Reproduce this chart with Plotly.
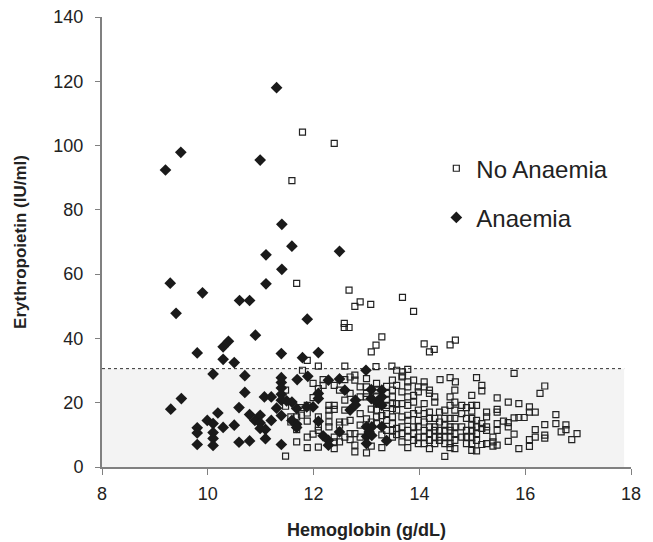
import plotly.graph_objects as go

# ---------------- data ----------------
# No Anaemia (open squares): hemoglobin (g/dL) and erythropoietin (IU/ml)
no_anaemia_hb = [
    11.79, 12.39, 11.59, 11.68, 12.67, 13.68, 12.78, 12.88, 13.08, 13.89,
    12.58, 12.58, 12.67, 13.29, 13.18, 13.09, 14.09, 14.19, 14.28, 14.58,
    14.68, 11.88, 11.79, 12.09, 12.59, 13.18, 13.48, 13.57, 13.68, 13.68,
    13.78, 15.79, 16.37, 16.28, 14.39, 14.58, 14.68,
    11.47, 11.47, 11.47,
    11.57, 11.57,
    11.68, 11.68, 11.68,
    11.77, 11.77,
    11.88, 11.88, 11.88, 11.88, 11.88,
    11.99, 11.99, 11.99,
    12.09, 12.09, 12.09, 12.09, 12.09, 12.09,
    12.18, 12.18,
    12.29, 12.29, 12.29, 12.29, 12.29,
    12.39, 12.39, 12.39, 12.39, 12.39, 12.39,
    12.49, 12.49, 12.49, 12.49,
    12.59, 12.59, 12.59, 12.59, 12.59,
    12.69, 12.69, 12.69, 12.69, 12.69,
    12.78, 12.78, 12.78, 12.78, 12.78,
    12.88, 12.88, 12.88, 12.88, 12.88,
    13.00, 13.00, 13.00, 13.00, 13.00, 13.00,
    13.09, 13.09, 13.09,
    13.19, 13.19, 13.19, 13.19, 13.19, 13.19, 13.19,
    13.29, 13.29, 13.29,
    13.38, 13.38, 13.38, 13.38, 13.38, 13.38, 13.38,
    13.49, 13.49, 13.49, 13.49, 13.49, 13.49, 13.49, 13.49, 13.49,
    13.57, 13.57, 13.57, 13.57, 13.57,
    13.67, 13.67, 13.67, 13.67, 13.67, 13.67, 13.67,
    13.78, 13.78, 13.78, 13.78, 13.78, 13.78, 13.78, 13.78, 13.78,
    13.89, 13.89, 13.89, 13.89, 13.89, 13.89, 13.89,
    13.98, 13.98, 13.98, 13.98, 13.98, 13.98, 13.98,
    14.09, 14.09, 14.09, 14.09, 14.09, 14.09, 14.09, 14.09,
    14.19, 14.19, 14.19, 14.19, 14.19, 14.19, 14.19, 14.19,
    14.29, 14.29, 14.29, 14.29, 14.29, 14.29, 14.29,
    14.38, 14.38, 14.38, 14.38, 14.38,
    14.48, 14.48, 14.48, 14.48, 14.48, 14.48, 14.48,
    14.58, 14.58, 14.58, 14.58, 14.58, 14.58, 14.58, 14.58,
    14.67, 14.67, 14.67, 14.67, 14.67, 14.67, 14.67, 14.67,
    14.80, 14.80, 14.80, 14.80,
    14.89, 14.89, 14.89, 14.89, 14.89,
    14.99, 14.99, 14.99, 14.99, 14.99, 14.99, 14.99, 14.99, 14.99,
    15.08, 15.08, 15.08, 15.08, 15.08, 15.08, 15.08,
    15.18, 15.18, 15.18, 15.18, 15.18,
    15.27, 15.27, 15.27, 15.27, 15.27,
    15.39, 15.39, 15.39,
    15.47, 15.47, 15.47, 15.47, 15.47, 15.47,
    15.59,
    15.68, 15.68, 15.68, 15.68,
    15.79, 15.79,
    15.88, 15.88, 15.88,
    15.98,
    16.08, 16.08, 16.08, 16.08,
    16.19, 16.19, 16.19,
    16.37, 16.37, 16.37,
    16.58, 16.58,
    16.68,
    16.77, 16.77,
    16.88,
    16.98,
]
no_anaemia_epo = [
    104.2, 100.7, 89.1, 57.1, 55.0, 52.8, 50.0, 51.4, 50.6, 48.4,
    44.7, 43.4, 43.4, 40.5, 37.9, 35.8, 38.3, 35.8, 36.6, 38.0,
    39.5, 33.2, 30.1, 31.4, 31.4, 31.2, 31.4, 30.1, 29.6, 28.3,
    30.4, 29.1, 25.2, 22.9, 27.2, 27.8, 26.5,
    3.4, 18.9, 23.9,
    15.6, 14.0,
    15.6, 11.6, 7.8,
    18.5, 16.1,
    19.2, 16.8, 14.3, 9.3, 6.0,
    26.0, 21.6, 10.2,
    24.4, 22.0, 15.6, 12.5, 11.4, 6.2,
    27.2, 25.4,
    19.2, 17.7, 16.1, 14.0, 12.5,
    25.4, 19.2, 17.9, 9.3, 7.8, 5.7,
    23.9, 14.0, 13.0, 7.8,
    27.2, 20.8, 17.7, 14.0, 9.3,
    28.0, 22.9, 14.5, 10.4, 8.5,
    28.6, 27.0, 10.4, 6.8, 4.7,
    24.9, 21.8, 16.6, 13.0, 9.3,
    27.5, 24.9, 22.9, 21.8, 15.0, 4.4,
    18.0, 14.0, 6.5,
    26.0, 23.9, 21.8, 19.7, 17.7, 15.6, 13.5,
    16.0, 10.0, 6.0,
    25.1, 22.9, 20.8, 19.2, 16.6, 14.5, 11.4,
    27.0, 23.9, 21.8, 19.7, 18.2, 15.6, 13.5, 11.4, 9.3,
    25.4, 19.7, 17.7, 12.0, 10.1,
    28.0, 23.4, 19.7, 15.6, 12.5, 10.4, 7.8,
    26.5, 24.9, 21.8, 19.2, 16.1, 14.5, 11.4, 9.3, 6.0,
    27.0, 22.3, 20.2, 16.6, 12.5, 10.4, 8.3,
    24.9, 23.4, 17.7, 14.5, 12.5, 9.3, 7.3,
    26.5, 24.9, 19.7, 16.6, 14.0, 11.4, 9.3, 7.3,
    23.9, 22.9, 17.1, 15.1, 12.5, 10.4, 8.3, 5.7,
    21.8, 20.2, 15.1, 12.5, 11.4, 9.3, 7.3,
    17.1, 14.0, 11.4, 9.3, 8.3,
    17.7, 15.1, 13.0, 11.4, 9.3, 7.3, 3.3,
    21.8, 19.2, 15.1, 12.5, 11.4, 9.3, 7.3, 6.0,
    23.9, 20.2, 17.7, 15.1, 12.5, 10.4, 8.3, 5.7,
    19.2, 16.6, 12.5, 9.3,
    18.5, 15.1, 11.4, 9.3, 7.3,
    22.3, 19.2, 17.4, 15.1, 13.0, 11.4, 9.3, 7.3, 5.2,
    27.8, 19.2, 14.5, 12.5, 10.4, 8.3, 5.0,
    25.4, 23.7, 13.5, 12.0, 7.0,
    17.1, 15.6, 12.5, 11.4, 7.3,
    9.3, 7.8, 6.5,
    21.5, 17.9, 17.1, 13.5, 11.4, 6.8,
    14.3,
    20.2, 13.8, 12.5, 8.0,
    15.3, 10.2,
    19.7, 15.4, 5.7,
    15.4,
    18.7, 17.1, 8.5, 6.4,
    17.1, 11.6, 9.3,
    13.2, 9.9, 9.0,
    16.3, 13.5,
    10.9,
    13.1, 11.6,
    8.5,
    10.4,
]

# Anaemia (filled diamonds)
anaemia_hb = [
    9.20, 9.49, 11.30, 10.99, 9.29, 9.40, 9.90, 11.10, 11.40, 11.59,
    12.49, 11.10, 11.40, 10.60, 10.79, 11.88, 10.90, 9.80, 10.29, 10.39,
    10.29, 10.50, 10.10, 10.70, 11.39, 11.79, 12.09,
    9.30, 9.50, 9.80, 9.80, 9.80, 9.99, 10.10, 10.10, 10.10, 10.10,
    10.19, 10.29, 10.50, 10.59, 10.59, 10.70, 10.79, 10.79, 10.89, 10.99,
    10.99, 10.99, 11.07, 11.09, 11.09, 11.20, 11.20, 11.30, 11.39, 11.39,
    11.39, 11.39, 11.39, 11.39, 11.39, 11.49, 11.59, 11.59, 11.68, 11.68,
    11.68, 11.69, 11.87, 11.89, 11.99, 12.09, 12.09, 12.09, 12.18, 12.28,
    12.28, 12.28, 12.49, 12.49, 12.59, 12.69, 12.79, 12.79, 12.99, 13.09,
    13.09, 13.19, 13.29, 13.29, 13.29, 13.29, 13.00, 13.10, 13.00, 13.10,
    13.00, 13.05, 13.38,
]
anaemia_epo = [
    92.4, 97.9, 118.0, 95.5, 57.2, 47.8, 54.2, 66.0, 75.5, 68.7,
    67.1, 57.0, 61.5, 51.8, 51.8, 46.0, 41.0, 35.5, 37.4, 39.1,
    33.5, 32.5, 28.9, 28.4, 35.3, 34.0, 35.6,
    18.0, 21.3, 12.2, 10.6, 7.0, 14.5, 13.5, 10.7, 8.9, 6.7,
    16.8, 12.3, 13.0, 18.5, 7.7, 23.2, 16.3, 8.1, 14.5, 16.1,
    13.7, 12.0, 21.8, 11.7, 8.8, 21.8, 14.5, 18.3, 27.8, 26.3,
    24.6, 22.6, 20.8, 16.0, 7.0, 20.6, 20.2, 14.5, 18.2, 13.3,
    12.3, 27.2, 18.7, 28.2, 18.7, 22.9, 21.3, 14.2, 9.7, 27.0,
    8.3, 6.8, 27.4, 10.9, 23.9, 17.7, 20.8, 19.3, 30.1, 24.1,
    21.3, 20.2, 23.9, 21.8, 19.2, 12.6, 12.5, 12.5, 9.5, 9.8,
    7.3, 10.9, 8.2,
]
assert len(no_anaemia_hb) == len(no_anaemia_epo)
assert len(anaemia_hb) == len(anaemia_epo)

ref_level = 30.6      # upper limit of the shaded normal range
ref_x_end = 17.87

x_ticks = [8, 10, 12, 14, 16, 18]
y_ticks = [0, 20, 40, 60, 80, 100, 120, 140]

# ---------------- figure ----------------
fig = go.Figure()
fig.add_trace(go.Scatter(
    x=no_anaemia_hb, y=no_anaemia_epo, mode="markers", name="No Anaemia",
    legendgroup="a",
    marker=dict(symbol="square-open", size=6, color="#222222",
                line=dict(width=1.2, color="#222222")),
))
fig.add_trace(go.Scatter(
    x=anaemia_hb, y=anaemia_epo, mode="markers", name="Anaemia",
    legendgroup="b",
    marker=dict(symbol="diamond", size=9, color="#1a1a1a",
                line=dict(width=0)),
))

fig.add_shape(type="rect", xref="x", yref="y", x0=8, x1=ref_x_end, y0=0, y1=ref_level,
              fillcolor="#f3f3f3", line=dict(width=0), layer="below")
fig.add_shape(type="line", xref="x", yref="y", x0=8, x1=ref_x_end, y0=ref_level, y1=ref_level,
              line=dict(color="#333333", width=1, dash="dot"), layer="below")

axis_font = dict(family="Liberation Sans, Arial, sans-serif", size=18, color="#222222")
fig.update_layout(
    width=653, height=542,
    margin=dict(l=102, r=22, t=17, b=75),
    paper_bgcolor="white", plot_bgcolor="white",
    font=dict(family="Liberation Sans, Arial, sans-serif", color="#222222"),
    showlegend=True,
    legend=dict(x=0.632, y=0.713, xanchor="left", yanchor="top",
                font=dict(size=24, color="#222222"),
                bgcolor="rgba(0,0,0,0)", tracegroupgap=15, itemsizing="trace"),
    xaxis=dict(range=[8, 18], tickvals=x_ticks, ticktext=[str(v) for v in x_ticks],
               showgrid=False, zeroline=False, showline=True, linecolor="#808080",
               linewidth=2, ticks="outside", ticklen=6, tickcolor="#808080",
               tickfont=axis_font, ticklabelstandoff=3, automargin=False,
               title=dict(text="<b>Hemoglobin (g/dL)</b>", font=dict(size=18, color="#222222"),
                          standoff=21)),
    yaxis=dict(range=[0, 140], tickvals=y_ticks, ticktext=[str(v) for v in y_ticks],
               showgrid=False, zeroline=False, showline=True, linecolor="#808080",
               linewidth=2, ticks="outside", ticklen=5, tickcolor="#808080",
               tickfont=axis_font, ticklabelstandoff=8, automargin=False,
               title=dict(text="<b>Erythropoietin (IU/ml)</b>", font=dict(size=17, color="#222222"),
                          standoff=22)),
)

fig.write_html("out.html")
